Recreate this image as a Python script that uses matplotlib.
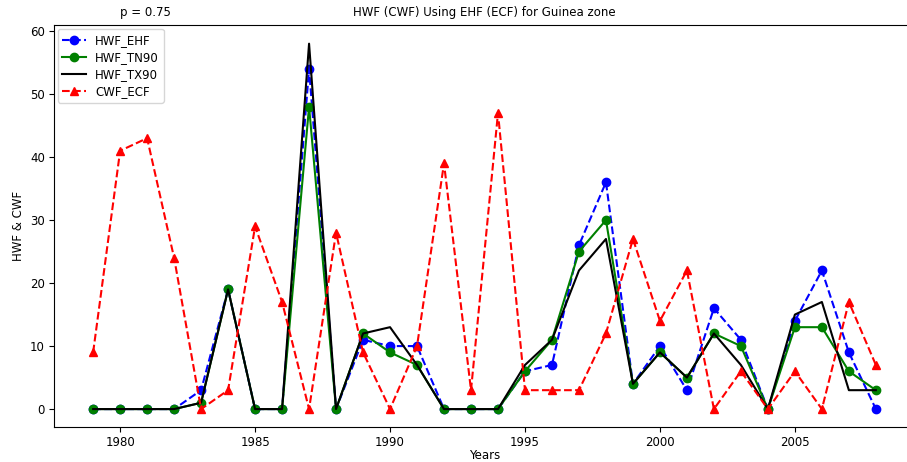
import numpy as np
import matplotlib.pyplot as plt

## data
years = np.arange(1979, 2009)
hwf_ehf  = [0, 0, 0, 0, 3, 19, 0, 0, 54, 0, 11, 10, 10, 0, 0, 0, 6, 7, 26, 36,
            4, 10, 3, 16, 11, 0, 14, 22, 9, 0]
hwf_tn90 = [0, 0, 0, 0, 1, 19, 0, 0, 48, 0, 12, 9, 7, 0, 0, 0, 6, 11, 25, 30,
            4, 9, 5, 12, 10, 0, 13, 13, 6, 3]
hwf_tx90 = [0, 0, 0, 0, 1, 19, 0, 0, 58, 0, 12, 13, 7, 0, 0, 0, 7, 11, 22, 27,
            4, 9, 5, 12, 7, 0, 15, 17, 3, 3]
cwf_ecf  = [9, 41, 43, 24, 0, 3, 29, 17, 0, 28, 9, 0, 10, 39, 3, 47, 3, 3, 3, 12,
            27, 14, 22, 0, 6, 0, 6, 0, 17, 7]

fs = 8.5  # small font used all over the reference

fig = plt.figure(figsize=(9.07, 4.62), dpi=100)
## axes runs a little past the right edge, like the cropped reference
ax = fig.add_axes([54/907, 0.075, 861/907, 0.87])

ax.plot(years, hwf_ehf, 'b--o', label='HWF_EHF', lw=1.5, ms=6)
ax.plot(years, hwf_tn90, 'g-o', label='HWF_TN90', lw=1.5, ms=6)
ax.plot(years, hwf_tx90, 'k-', label='HWF_TX90', lw=1.5)
ax.plot(years, cwf_ecf, 'r--^', label='CWF_ECF', lw=1.5, ms=6)

ax.set_xlim(1977.55, 2009.45)
ax.set_ylim(-2.9, 60.9)
ax.set_xticks([1980, 1985, 1990, 1995, 2000, 2005])
ax.tick_params(labelsize=fs, pad=3)

ax.set_title('HWF (CWF) Using EHF (ECF) for Guinea zone', fontsize=fs, pad=7)
ax.text(0.106, 1.016, 'p = 0.75', transform=ax.transAxes, ha='center',
        va='bottom', fontsize=fs)
ax.set_xlabel('Years', fontsize=fs, labelpad=0)
ax.set_ylabel('HWF & CWF', fontsize=fs)
ax.legend(loc='upper left', fontsize=fs, labelspacing=0.35,
          borderaxespad=0.3, handlelength=2.0)

fig.savefig('out.png', dpi=100)
